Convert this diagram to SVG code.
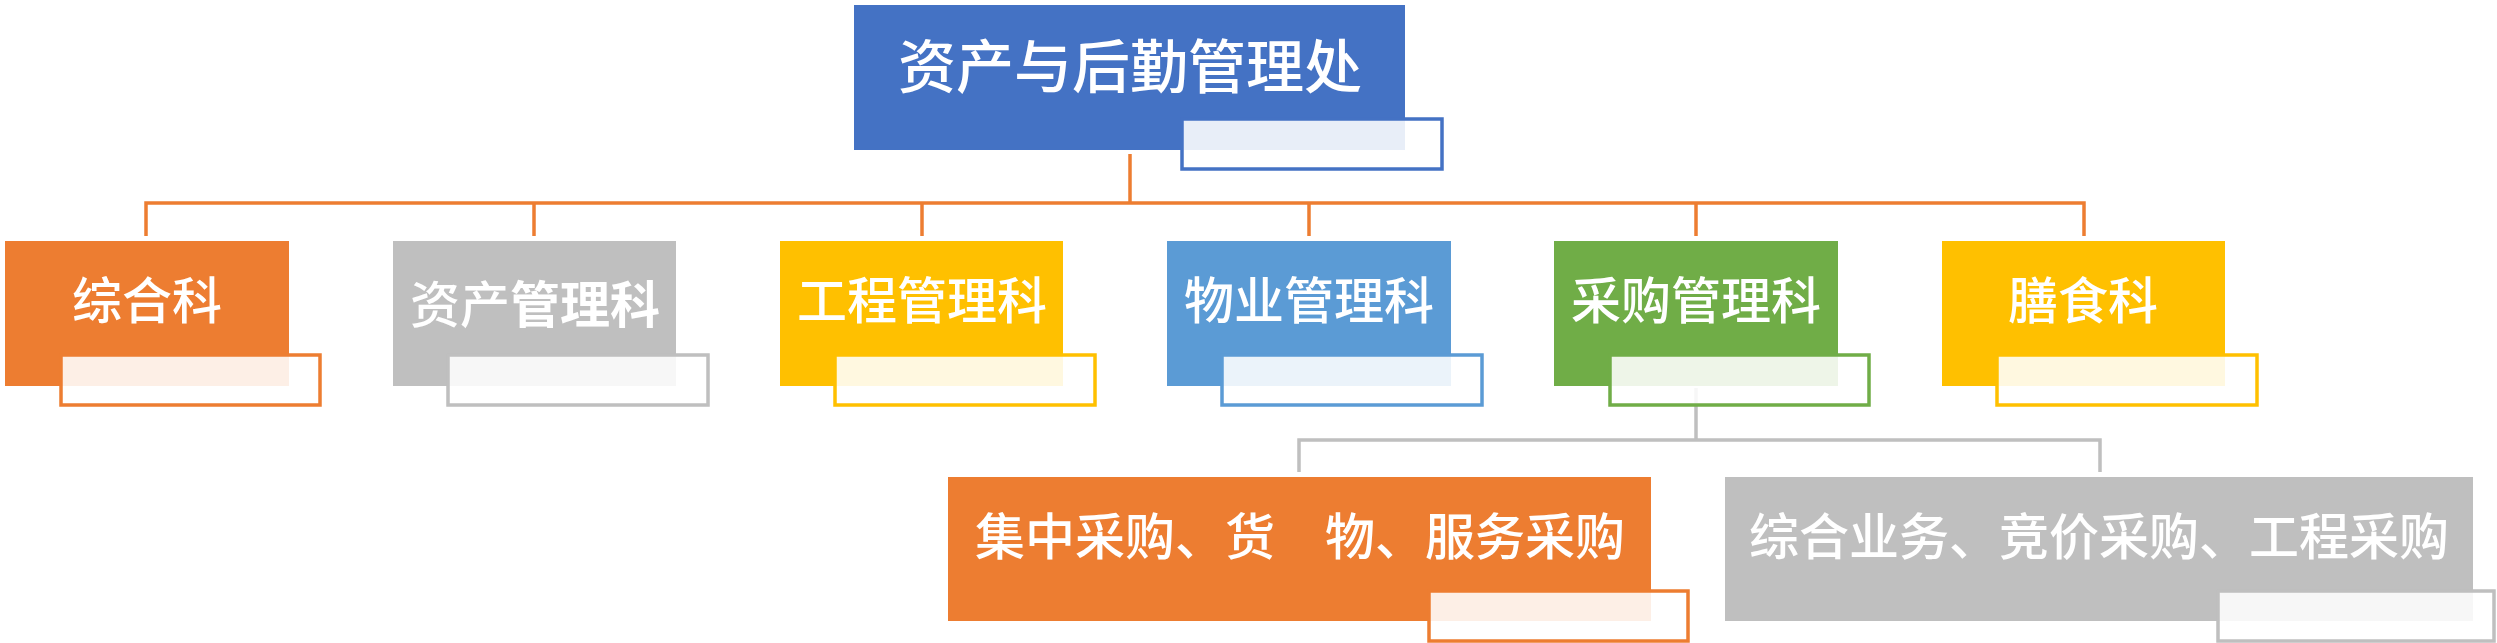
<svg xmlns="http://www.w3.org/2000/svg" width="2497" height="643" viewBox="0 0 2497 643">
<style>
.t{font-family:"Noto Sans CJK SC","Noto Sans",sans-serif;fill:#fff;text-anchor:middle;font-weight:500}
.t50{font-size:50px}
.sub{stroke-width:3.5;fill:#fff;fill-opacity:0.88}
.co{fill:none;stroke:#ED7D31;stroke-width:3.5}
.cg{fill:none;stroke:#BFBFBF;stroke-width:3.5}
</style>
<rect width="2497" height="643" fill="#fff"/>
<g id="connectors">
<line class="co" x1="1130" y1="154" x2="1130" y2="203"/>
<polyline class="co" points="146,236 146,203 2084,203 2084,236"/>
<line class="co" x1="534" y1="203" x2="534" y2="236"/>
<line class="co" x1="922" y1="203" x2="922" y2="236"/>
<line class="co" x1="1309" y1="203" x2="1309" y2="236"/>
<line class="co" x1="1696" y1="203" x2="1696" y2="236"/>
<line class="cg" x1="1696" y1="388" x2="1696" y2="440"/>
<polyline class="cg" points="1299,472 1299,440 2100,440 2100,472"/>
</g>
<g id="n-top">
<rect x="854" y="5" width="551" height="145" fill="#4472C4"/>
<rect class="sub" x="1182" y="119" width="260" height="50" stroke="#4472C4"/>
<text class="t" x="1130" y="88" font-size="58">资产与后勤管理处</text>
</g>
<g id="n-zonghe">
<rect x="5" y="241" width="284" height="145" fill="#ED7D31"/>
<rect class="sub" x="61" y="355" width="259" height="50" stroke="#ED7D31"/>
<text class="t t50" x="147" y="319">综合科</text>
</g>
<g id="n-zichan">
<rect x="393" y="241" width="283" height="145" fill="#BFBFBF"/>
<rect class="sub" x="448" y="355" width="260" height="50" stroke="#BFBFBF"/>
<text class="t t50" x="535" y="323">资产<tspan font-weight="700">管理科</tspan></text>
</g>
<g id="n-gongcheng">
<rect x="780" y="241" width="283" height="145" fill="#FFC000"/>
<rect class="sub" x="835" y="355" width="260" height="50" stroke="#FFC000"/>
<text class="t t50" x="922" y="319">工程管理科</text>
</g>
<g id="n-wuye">
<rect x="1167" y="241" width="284" height="145" fill="#5B9BD5"/>
<rect class="sub" x="1222" y="355" width="260" height="50" stroke="#5B9BD5"/>
<text class="t t50" x="1309" y="319">物业管理科</text>
</g>
<g id="n-caigou">
<rect x="1554" y="241" width="284" height="145" fill="#70AD47"/>
<rect class="sub" x="1610" y="355" width="259" height="50" stroke="#70AD47"/>
<text class="t t50" x="1696" y="319">采购管理科</text>
</g>
<g id="n-shanshi">
<rect x="1942" y="241" width="283" height="145" fill="#FFC000"/>
<rect class="sub" x="1997" y="355" width="260" height="50" stroke="#FFC000"/>
<text class="t t50" x="2083" y="319">膳食科</text>
</g>
<g id="n-jizhong">
<rect x="948" y="477" width="703" height="144" fill="#ED7D31"/>
<rect class="sub" x="1429" y="591" width="259" height="50" stroke="#ED7D31"/>
<text class="t t50" x="1300" y="555">集中采购、货　物、服务采购</text>
</g>
<g id="n-zonghe-yewu">
<rect x="1725" y="477" width="748" height="144" fill="#BFBFBF"/>
<rect class="sub" x="2218" y="591" width="276" height="50" stroke="#BFBFBF"/>
<text class="t t50" x="2099" y="555">综合业务、竞价采购、工程采购</text>
</g>
</svg>
